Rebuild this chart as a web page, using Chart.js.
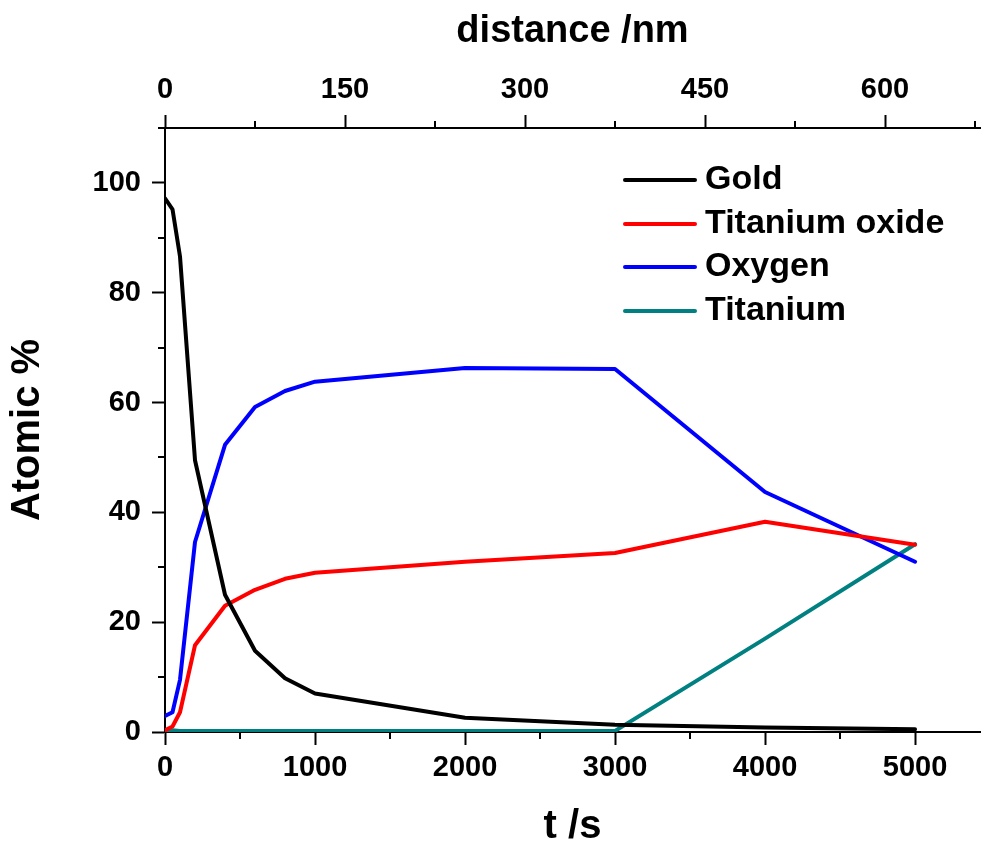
<!DOCTYPE html>
<html>
<head>
<meta charset="utf-8">
<title>Depth profile - Atomic %</title>
<script src="https://cdn.jsdelivr.net/npm/chart.js@4.4.0/dist/chart.umd.min.js"></script>
<style>
  html, body { margin: 0; padding: 0; background: #fff; }
  #chart { display: block; }
</style>
</head>
<body>
<canvas id="chart" width="981" height="843"></canvas>
<script>
// Thời gian phún xạ (s)
const sputterTime = [0, 50, 100, 200, 400, 600, 800, 1000, 2000, 3000, 4000, 5000];

// Thành phần nguyên tử (%)
const gold          = [97.2, 95.2, 86.6, 49.5, 25.0, 14.8, 9.8, 7.0, 2.6, 1.3, 0.8, 0.5];
const titaniumOxide = [0.3, 1.0, 3.6, 15.8, 23.0, 25.9, 27.9, 29.0, 31.0, 32.6, 38.3, 34.1];
const oxygen        = [2.9, 3.6, 9.5, 34.6, 52.3, 59.2, 62.1, 63.8, 66.3, 66.1, 43.7, 31.0];
const titanium      = [0.2, 0.3, 0.2, 0.2, 0.2, 0.2, 0.2, 0.2, 0.2, 0.2, 17.0, 34.2];

const seriesLabels = ['Gold', 'Titanium oxide', 'Oxygen', 'Titanium'];
const seriesColors = ['#000000', '#ff0000', '#0000ff', '#008080'];

// Vạch chia trục
const timeTicks = [0, 1000, 2000, 3000, 4000, 5000];
const timeMinor = [500, 1500, 2500, 3500, 4500];
const distanceTicks = [0, 150, 300, 450, 600];
const distanceMinor = [75, 225, 375, 525, 675];
const atomicTicks = [0, 20, 40, 60, 80, 100];
const atomicMinor = [10, 30, 50, 70, 90, 110];

const timeMax = 5433;
const nmPerSecond = 0.125;
const atomicMax = 110;

const family = '"Liberation Sans", Arial, Helvetica, sans-serif';
const tickFont = { family: family, size: 29, weight: 'bold' };

// Vẽ vạch chia phụ (ngắn hơn) hướng ra ngoài
const minorTicks = {
    id: 'minorTicks',
    afterDraw(chart) {
        const ctx = chart.ctx;
        const { x, x2, y } = chart.scales;
        const len = 7;
        ctx.save();
        ctx.strokeStyle = '#000';
        ctx.lineWidth = 2;
        ctx.beginPath();
        timeMinor.forEach(v => {
            const px = Math.round(x.getPixelForValue(v));
            ctx.moveTo(px, x.top);
            ctx.lineTo(px, x.top + len);
        });
        distanceMinor.forEach(v => {
            const px = Math.round(x2.getPixelForValue(v));
            ctx.moveTo(px, x2.bottom);
            ctx.lineTo(px, x2.bottom - len);
        });
        atomicMinor.forEach(v => {
            const py = Math.round(y.getPixelForValue(v));
            ctx.moveTo(y.right, py);
            ctx.lineTo(y.right - len, py);
        });
        ctx.stroke();
        ctx.restore();
    }
};

// Chú thích nằm trong vùng vẽ, góc trên bên phải
const insideLegend = {
    id: 'insideLegend',
    afterDatasetsDraw(chart) {
        const { ctx, chartArea } = chart;
        const x0 = chartArea.left + 460;
        const y0 = chartArea.top + 52;
        ctx.save();
        ctx.font = 'bold 34px ' + family;
        ctx.textBaseline = 'middle';
        ctx.textAlign = 'left';
        chart.data.datasets.forEach((ds, i) => {
            const yy = Math.round(y0 + i * 43.7);
            ctx.strokeStyle = ds.borderColor;
            ctx.lineWidth = 4;
            ctx.lineCap = 'round';
            ctx.beginPath();
            ctx.moveTo(x0, yy);
            ctx.lineTo(x0 + 70, yy);
            ctx.stroke();
            ctx.fillStyle = '#000';
            ctx.fillText(ds.label, x0 + 80, yy);
        });
        ctx.restore();
    }
};

const seriesValues = [gold, titaniumOxide, oxygen, titanium];

const datasets = seriesValues.map((values, i) => ({
    label: seriesLabels[i],
    data: sputterTime.map((t, k) => ({ x: t, y: values[k] })),
    borderColor: seriesColors[i],
    backgroundColor: seriesColors[i],
    borderWidth: 4,
    borderJoinStyle: 'round',
    borderCapStyle: 'round',
    pointRadius: 0,
    tension: 0,
    fill: false
}));

const axisGrid = { drawOnChartArea: false, tickLength: 13, tickWidth: 2, tickColor: '#000' };
const axisBorder = { color: '#000', width: 2 };

new Chart(document.getElementById('chart'), {
    type: 'line',
    data: { datasets: datasets },
    options: {
        responsive: false,
        animation: false,
        devicePixelRatio: 1,
        layout: { padding: { left: 0, right: 1, top: 0, bottom: 0 } },
        plugins: {
            legend: { display: false },
            tooltip: { enabled: false }
        },
        scales: {
            x: {
                type: 'linear',
                position: 'bottom',
                min: 0,
                max: timeMax,
                afterBuildTicks: s => { s.ticks = timeTicks.map(v => ({ value: v })); },
                afterFit: s => { s.height = 111; },
                ticks: { font: tickFont, color: '#000', padding: 6, maxRotation: 0, callback: v => String(v) },
                grid: axisGrid,
                border: axisBorder,
                title: {
                    display: true,
                    text: 't /s',
                    color: '#000',
                    font: { family: family, size: 40, weight: 'bold', lineHeight: 0.8 },
                    padding: 0
                }
            },
            x2: {
                type: 'linear',
                position: 'top',
                min: 0,
                max: timeMax * nmPerSecond,
                afterBuildTicks: s => { s.ticks = distanceTicks.map(v => ({ value: v })); },
                afterFit: s => { s.height = 128; },
                ticks: { font: tickFont, color: '#000', padding: 8, maxRotation: 0, callback: v => String(v) },
                grid: axisGrid,
                border: axisBorder,
                title: {
                    display: true,
                    text: 'distance /nm',
                    color: '#000',
                    font: { family: family, size: 38, weight: 'bold' },
                    padding: { top: 9, bottom: 0 }
                }
            },
            y: {
                type: 'linear',
                position: 'left',
                min: 0,
                max: atomicMax,
                afterBuildTicks: s => { s.ticks = atomicTicks.map(v => ({ value: v })); },
                afterFit: s => { s.width = 165; },
                ticks: { font: tickFont, color: '#000', padding: 11, callback: v => String(v) },
                grid: axisGrid,
                border: axisBorder,
                title: {
                    display: true,
                    text: 'Atomic %',
                    color: '#000',
                    font: { family: family, size: 40, weight: 'bold' },
                    padding: { top: 4, bottom: 0 }
                }
            }
        }
    },
    plugins: [minorTicks, insideLegend]
});
</script>
</body>
</html>
